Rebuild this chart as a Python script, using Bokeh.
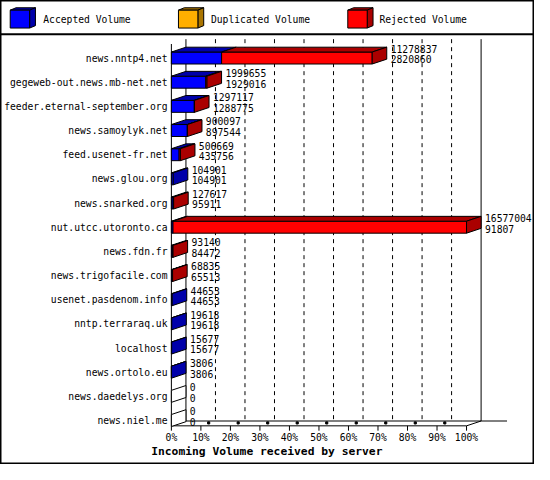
from bokeh.plotting import figure
from bokeh.models import Range1d
from bokeh.embed import file_html
from bokeh.resources import INLINE
from bokeh.core.properties import value

# ---------------- data ----------------
hosts = [
    "news.nntp4.net", "gegeweb-out.news.mb-net.net", "feeder.eternal-september.org",
    "news.samoylyk.net", "feed.usenet-fr.net", "news.glou.org", "news.snarked.org",
    "nut.utcc.utoronto.ca", "news.fdn.fr", "news.trigofacile.com", "usenet.pasdenom.info",
    "nntp.terraraq.uk", "localhost", "news.ortolo.eu", "news.daedelys.org", "news.niel.me",
]
total_volume = [11278837, 1999655, 1297117, 900097, 506669, 104901, 127617, 16577004,
                93140, 68835, 44653, 19618, 15677, 3806, 0, 0]
accepted_volume = [2820860, 1929016, 1288775, 897544, 435756, 104901, 95911, 91807,
                   84472, 65513, 44653, 19618, 15677, 3806, 0, 0]
duplicated_volume = [0, 0, 0, 0, 0, 0, 0, 0, 0, 0, 0, 0, 0, 0, 0, 0]
series_names = ["Accepted Volume", "Duplicated Volume", "Rejected Volume"]
tick_values = [0, 10, 20, 30, 40, 50, 60, 70, 80, 90, 100]
tick_labels = ["0%", "10%", "20%", "30%", "40%", "50%", "60%", "70%", "80%", "90%", "100%"]
x_title = "Incoming Volume received by server"

front_colors = ["#0000FF", "#FFAF00", "#FF0000"]
side_colors = ["#0000AA", "#AA7500", "#AA0000"]

rejected_volume = [t - a - d for t, a, d in zip(total_volume, accepted_volume, duplicated_volume)]

# ---------------- layout (reference pixel space) ----------------
W, H = 550, 480           # reference picture size
PX_PCT = 3.04             # px per percent
PX_ROW = 25.0             # px per row
X0, Y0 = 176.0, 59.5      # position of value 0 / row 0
DEPTH_X, DEPTH_Y = 15.0, 5.0
HALF_BAR = 6.2

def fx(X):
    return (X - X0) / PX_PCT

def fy(Y):
    return (Y - Y0) / PX_ROW

DX = DEPTH_X / PX_PCT
DY = DEPTH_Y / PX_ROW
HB = HALF_BAR / PX_ROW

FONT = value("DejaVu Sans Mono")
FS = "9.7px"

p = figure(width=534, height=464, output_backend="svg", toolbar_location=None,
           x_range=Range1d(fx(0), fx(W)), y_range=Range1d(fy(H), fy(0)),
           x_axis_location=None, y_axis_location=None, min_border=0)
p.xgrid.visible = False
p.ygrid.visible = False
p.outline_line_color = "black"
p.outline_line_width = 2
p.background_fill_color = "white"
p.border_fill_color = "white"

# ---------------- chart frame ----------------
y_top_back, y_top_front = fy(40), fy(45)
y_floor_back, y_floor_front = fy(435), fy(440)

# dashed back-wall gridlines
grid_x = [t + DX for t in tick_values[1:-1]]
p.segment(x0=grid_x, y0=[y_top_back] * len(grid_x), x1=grid_x, y1=[y_floor_back] * len(grid_x),
          line_color="black", line_width=1, line_dash="4 4")
# back walls
p.segment(x0=[tick_values[0] + DX, tick_values[-1] + DX], y0=[y_top_back, y_top_back],
          x1=[tick_values[0] + DX, tick_values[-1] + DX], y1=[y_floor_back, y_floor_back],
          line_color="black", line_width=1)
# front-left edge
p.segment(x0=[tick_values[0]], y0=[y_top_front], x1=[tick_values[0]], y1=[y_floor_front],
          line_color="black", line_width=1)
# floor
p.segment(x0=[tick_values[0], tick_values[0] + DX, tick_values[0], tick_values[-1]],
          y0=[y_floor_front, y_floor_back, y_floor_front, y_floor_front],
          x1=[tick_values[-1], tick_values[-1] + DX + 26.7 / PX_PCT, tick_values[0] + DX, tick_values[-1] + DX],
          y1=[y_floor_front, y_floor_back, y_floor_back, y_floor_back],
          line_color="black", line_width=1)
# small ticks
p.segment(x0=tick_values, y0=[y_floor_front] * len(tick_values),
          x1=tick_values, y1=[fy(445)] * len(tick_values), line_color="black", line_width=1)
p.rect(x=[t + 8 / PX_PCT for t in tick_values[1:-1]], y=[fy(437)] * (len(tick_values) - 2),
       width=2.2 / PX_PCT, height=2.2 / PX_ROW, color="black")
p.text(x=tick_values, y=[fy(452)] * len(tick_values), text=tick_labels, text_font=FONT,
       text_font_size=FS, text_align="center", text_baseline="middle", text_color="black")

# ---------------- bars ----------------
vmax = max(total_volume)
fq = dict(left=[], right=[], top=[], bottom=[], color=[])
tp = dict(xs=[], ys=[], color=[])
sd = dict(xs=[], ys=[], color=[])
for i in range(len(hosts)):
    vals = [accepted_volume[i], duplicated_volume[i], rejected_volume[i]]
    start = 0.0
    last = None
    for k, v in enumerate(vals):
        if v <= 0:
            continue
        s = start / vmax * 100
        e = (start + v) / vmax * 100
        start += v
        last = k
        fq["left"].append(s); fq["right"].append(e)
        fq["top"].append(i - HB); fq["bottom"].append(i + HB)
        fq["color"].append(front_colors[k])
        tp["xs"].append([s, e, e + DX, s + DX])
        tp["ys"].append([i - HB, i - HB, i - HB - DY, i - HB - DY])
        tp["color"].append(side_colors[k])
    r = total_volume[i] / vmax * 100
    sd["xs"].append([r, r + DX, r + DX, r])
    sd["ys"].append([i - HB, i - HB - DY, i + HB - DY, i + HB])
    sd["color"].append(side_colors[last] if last is not None else "white")

p.quad(left=fq["left"], right=fq["right"], top=fq["top"], bottom=fq["bottom"],
       fill_color=fq["color"], line_color="black", line_width=1)
p.patches(xs=tp["xs"], ys=tp["ys"], fill_color=tp["color"], line_color="black", line_width=1)
p.patches(xs=sd["xs"], ys=sd["ys"], fill_color=sd["color"], line_color="black", line_width=1)

rows = list(range(len(hosts)))
# host labels
p.text(x=[fx(172)] * len(hosts), y=rows, text=hosts, text_font=FONT, text_font_size=FS,
       text_align="right", text_baseline="middle", text_color="black")
# value labels
val_x = [t / vmax * 100 + DX + 4 / PX_PCT for t in total_volume]
p.text(x=val_x, y=[i - 9.5 / PX_ROW for i in rows], text=[str(v) for v in total_volume],
       text_font=FONT, text_font_size=FS, text_align="left", text_baseline="middle", text_color="black")
p.text(x=val_x, y=[i + 1.5 / PX_ROW for i in rows], text=[str(v) for v in accepted_volume],
       text_font=FONT, text_font_size=FS, text_align="left", text_baseline="middle", text_color="black")

# axis title
p.text(x=[fx(274.3)], y=[fy(467)], text=[x_title], text_font=FONT, text_font_size="11.3px",
       text_font_style="bold", text_align="center", text_baseline="middle", text_color="black")

# ---------------- legend ----------------
p.segment(x0=[fx(0)], y0=[fy(35)], x1=[fx(W)], y1=[fy(35)], line_color="black", line_width=2)
leg_left = [10, 183.3, 357.7]
leg_text_x = [44, 216.7, 390.3]
LW, LDX, LDY = 20.0, 6.0, 2.5
for k in range(3):
    L, R = leg_left[k], leg_left[k] + LW
    T, B = 10.0, 28.5
    p.patch(x=[fx(L), fx(R), fx(R + LDX), fx(L + LDX)], y=[fy(T), fy(T), fy(T - LDY), fy(T - LDY)],
            fill_color=side_colors[k], line_color="black", line_width=1)
    p.patch(x=[fx(R), fx(R + LDX), fx(R + LDX), fx(R)], y=[fy(T), fy(T - LDY), fy(B - LDY), fy(B)],
            fill_color=side_colors[k], line_color="black", line_width=1)
    p.quad(left=[fx(L)], right=[fx(R)], top=[fy(T)], bottom=[fy(B)],
           fill_color=front_colors[k], line_color="black", line_width=1)
p.text(x=[fx(x) for x in leg_text_x], y=[fy(20)] * 3, text=series_names, text_font=FONT,
       text_font_size=FS, text_align="left", text_baseline="middle", text_color="black")

open("out.html", "w").write(file_html(p, INLINE))
